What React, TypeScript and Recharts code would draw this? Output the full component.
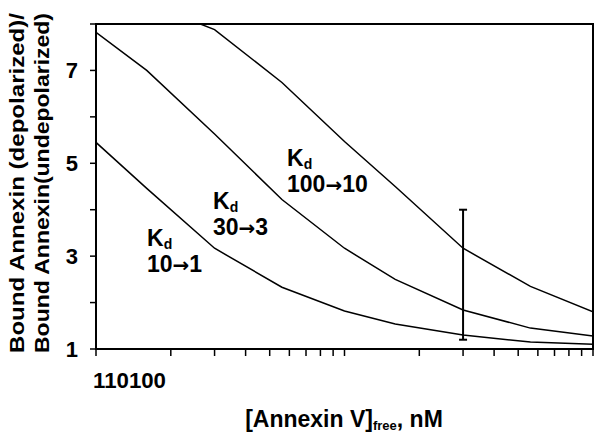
import React from "react";
import {
    ComposedChart,
    Line,
    Scatter,
    ErrorBar,
    XAxis,
    YAxis,
    ReferenceArea,
    Customized,
} from "recharts";

// free annexin concentration, nM (log axis)
const concentrations = [1, 1.6, 3, 5.6, 10, 16, 30, 56, 100];

// bound (depolarized) / bound (undepolarized)
const kd10to1 = [5.45, 4.46, 3.17, 2.33, 1.82, 1.54, 1.3, 1.15, 1.1];
const kd30to3 = [7.82, 7.0, 5.63, 4.22, 3.17, 2.5, 1.84, 1.45, 1.28];
const kd100to10 = [9.0, 8.45, 7.88, 6.74, 5.47, 4.5, 3.17, 2.35, 1.8];

// the single error bar on the Kd 100->10 curve
const errorBarConc = 30;
const errorBarCenter = 3.17;
const errorBarLow = 1.2;
const errorBarHigh = 4.0;

const xTicks = [1, 2, 3, 4, 5, 6, 7, 8, 9, 10, 20, 30, 40, 50, 60, 70, 80, 90, 100];
// the original prints its decade labels run together at the left end
const xTickLabels = ["1", "10", "100"];
const yTicks = [1, 2, 3, 4, 5, 6, 7, 8];
const yTickLabels = [1, 3, 5, 7];

const chartData = concentrations.map((conc, i) => ({
    conc,
    kdLow: kd10to1[i],
    kdMid: kd30to3[i],
    kdHigh: kd100to10[i],
}));

const errorData = [
    {
        conc: errorBarConc,
        value: errorBarCenter,
        err: [errorBarCenter - errorBarLow, errorBarHigh - errorBarCenter],
    },
];

const FONT = "'Liberation Sans', Arial, sans-serif";

const kdLabels = [
    { from: "10", to: "1", x: 147, y: 246 },
    { from: "30", to: "3", x: 213, y: 209 },
    { from: "100", to: "10", x: 287, y: 166 },
];

const Annotations = () => (
    <g fontFamily={FONT} fontWeight="bold" fill="#000">
        {kdLabels.map((l, i) => (
            <g key={i}>
                <text x={l.x} y={l.y} fontSize={23}>
                    K<tspan fontSize={14} dy={3}>d</tspan>
                </text>
                <text x={l.x} y={l.y + 26} fontSize={23}>
                    {l.from}
                    <tspan fontFamily="'DejaVu Sans', sans-serif" fontSize={20}>{"\u2192"}</tspan>
                    {l.to}
                </text>
            </g>
        ))}
        <text
            x={93}
            y={388}
            fontSize={21.5}
            textLength={73}
            lengthAdjust="spacingAndGlyphs"
        >
            {xTickLabels.join("")}
        </text>
        <text
            transform="translate(24,183) rotate(-90)"
            textAnchor="middle"
            fontSize={20}
            textLength={340}
            lengthAdjust="spacingAndGlyphs"
        >
            Bound Annexin (depolarized)/
        </text>
        <text
            transform="translate(49,183) rotate(-90)"
            textAnchor="middle"
            fontSize={20}
            textLength={340}
            lengthAdjust="spacingAndGlyphs"
        >
            Bound Annexin(undepolarized)
        </text>
        <text x={344} y={427} textAnchor="middle" fontSize={23}>
            [Annexin V]<tspan fontSize={13} dy={3}>free</tspan>
            <tspan dy={-3}>, nM</tspan>
        </text>
    </g>
);

const App = () => {
    return (
        <div style={{ position: "absolute", left: 0, top: 0, background: "#fff" }}>
            <ComposedChart
                width={598}
                height={434}
                data={chartData}
                margin={{ top: 24, right: 5, bottom: 0, left: 56 }}
            >
                <XAxis
                    dataKey="conc"
                    type="number"
                    scale="log"
                    domain={[1, 100]}
                    allowDataOverflow
                    ticks={xTicks}
                    interval={0}
                    height={85}
                    tickSize={7}
                    stroke="#000"
                    strokeWidth={2}
                    tickLine={{ stroke: "#000", strokeWidth: 1.5 }}
                    tickFormatter={() => ""}
                />
                <YAxis
                    type="number"
                    domain={[1, 8]}
                    allowDataOverflow
                    ticks={yTicks}
                    interval={0}
                    width={40}
                    tickSize={6}
                    tickMargin={12}
                    stroke="#000"
                    strokeWidth={2}
                    tickLine={{ stroke: "#000", strokeWidth: 1.5 }}
                    tickFormatter={(v: number) => (yTickLabels.includes(v) ? String(v) : "")}
                    tick={{ fill: "#000", fontSize: 22, fontWeight: "bold", fontFamily: FONT }}
                />
                <ReferenceArea
                    x1={1}
                    x2={100}
                    y1={1}
                    y2={8}
                    fill="none"
                    stroke="#000"
                    strokeWidth={2}
                />
                <Line
                    type="linear"
                    dataKey="kdLow"
                    stroke="#000"
                    strokeWidth={1.5}
                    dot={false}
                    isAnimationActive={false}
                />
                <Line
                    type="linear"
                    dataKey="kdMid"
                    stroke="#000"
                    strokeWidth={1.5}
                    dot={false}
                    isAnimationActive={false}
                />
                <Line
                    type="linear"
                    dataKey="kdHigh"
                    stroke="#000"
                    strokeWidth={1.5}
                    dot={false}
                    isAnimationActive={false}
                />
                <Scatter
                    data={errorData}
                    dataKey="value"
                    shape={() => <g />}
                    isAnimationActive={false}
                >
                    <ErrorBar
                        dataKey="err"
                        direction="y"
                        width={4}
                        stroke="#000"
                        strokeWidth={2}
                        isAnimationActive={false}
                    />
                </Scatter>
                <Customized component={Annotations} />
            </ComposedChart>
        </div>
    );
};

export default App;
